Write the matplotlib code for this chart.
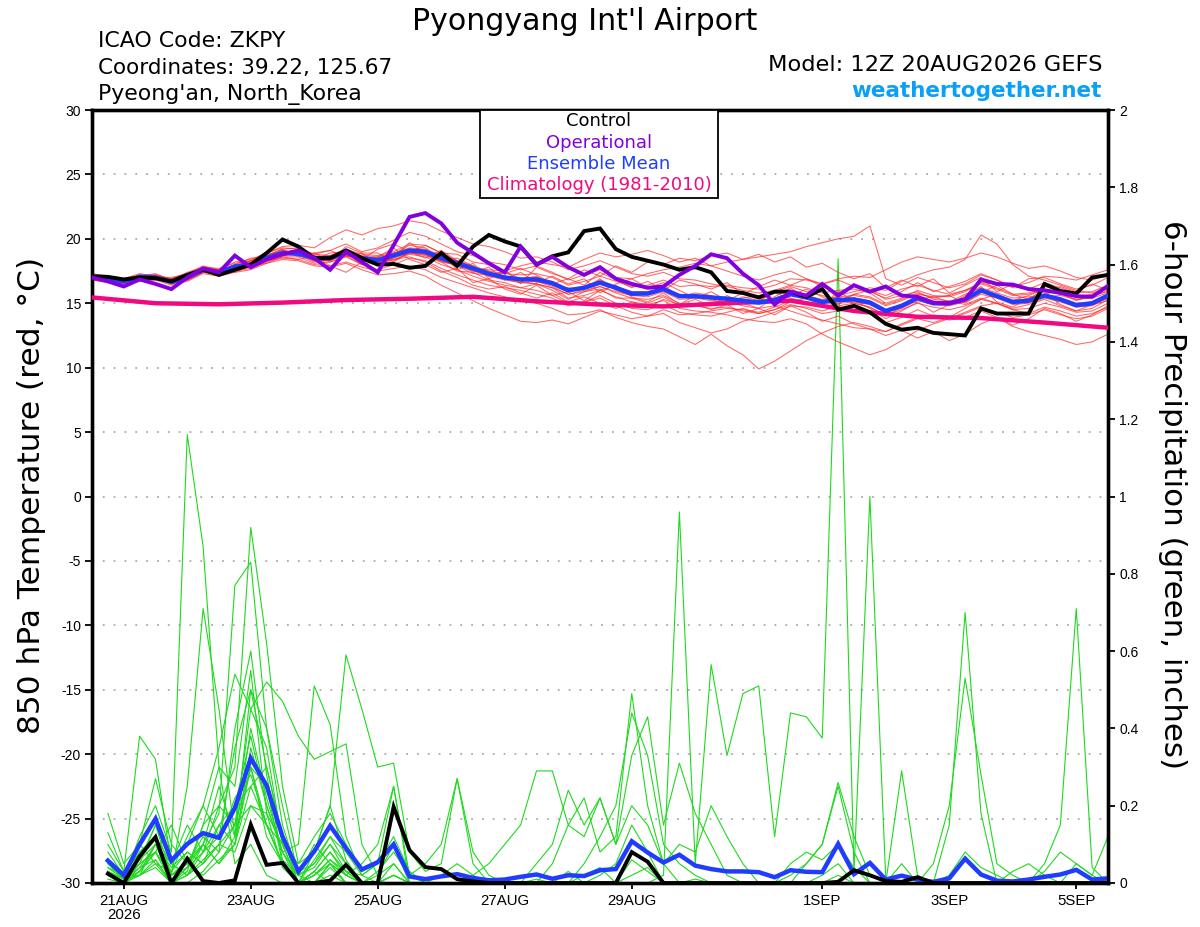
import matplotlib
matplotlib.use('Agg')
import matplotlib.pyplot as plt
from matplotlib.patches import Rectangle

plt.rcParams['font.family'] = ['Liberation Sans', 'DejaVu Sans']
WIDE = ['DejaVu Sans']

# ---------------- time axes (forecast hours from 12Z 20AUG2026) ----------------
hours_t = list(range(0, 385, 6))      # 65 temperature times
hours_p = list(range(6, 385, 6))      # 64 precipitation times
hours_clim = list(range(0, 385, 24))  # 17 climatology times

tick_hours = [12, 60, 108, 156, 204, 276, 324, 372]
tick_labels = ['21AUG\n2026', '23AUG', '25AUG', '27AUG', '29AUG', '1SEP', '3SEP', '5SEP']

# ---------------- 850 hPa temperature ----------------
control_t = [17.1, 17.05, 16.85, 17.0, 16.95, 16.7, 17.2, 17.6, 17.2, 17.6, 18.0, 18.9, 19.95,
             19.4, 18.5, 18.5, 19.1, 18.5, 18.0, 18.05, 17.75, 17.9, 18.9, 17.9, 19.4, 20.3,
             19.8, 19.4, 18.0, 18.65, 18.95, 20.6, 20.8, 19.2, 18.6, 18.3, 18.0, 17.6, 17.8,
             17.4, 15.95, 15.8, 15.45, 15.9, 15.9, 15.5, 16.1, 14.5, 14.8, 14.3, 13.4, 12.95,
             13.1, 12.7, 12.6, 12.5, 14.6, 14.2, 14.2, 14.2, 16.5, 15.95, 15.75, 17.0, 17.2]

operational_t = [17.0, 16.7, 16.3, 16.85, 16.5, 16.1, 17.0, 17.7, 17.4, 18.7, 17.8, 18.4, 18.8,
                 19.1, 18.5, 17.6, 19.0, 18.2, 17.4, 19.5, 21.7, 22.0, 21.2, 19.7, 18.9, 18.1,
                 17.4, 19.4, 18.0, 18.6, 17.8, 17.2, 17.8, 16.9, 16.5, 16.2, 16.3, 17.2, 17.9,
                 18.8, 18.5, 17.3, 16.4, 14.9, 15.9, 15.6, 16.5, 15.6, 16.4, 15.9, 16.3, 15.6,
                 15.5, 15.05, 15.0, 15.3, 16.85, 16.5, 16.45, 16.1, 16.0, 15.8, 15.55, 15.5, 16.35]

mean_t = [17.05, 16.9, 16.7, 17.05, 17.0, 16.65, 17.0, 17.6, 17.4, 17.85, 18.0, 18.5, 18.9,
          18.85, 18.5, 18.5, 18.95, 18.5, 18.35, 18.7, 19.1, 19.0, 18.5, 18.1, 17.7, 17.3,
          17.0, 16.85, 16.85, 16.55, 16.0, 16.2, 16.6, 16.2, 15.75, 15.75, 16.1, 15.55, 15.55,
          15.45, 15.35, 15.2, 15.05, 15.25, 15.7, 15.45, 15.1, 15.25, 15.3, 15.05, 14.4, 14.8,
          15.4, 15.0, 15.0, 15.3, 16.0, 15.55, 15.1, 15.2, 15.6, 15.3, 14.85, 15.0, 15.6]

climatology_t = [15.45, 15.0, 14.92, 15.05, 15.25, 15.35, 15.5, 15.15, 14.9, 14.75, 15.0,
                 15.2, 14.4, 13.95, 13.85, 13.5, 13.1]

member_t01 = [17.2, 17.0, 16.9, 17.3, 17.1, 16.9, 17.3, 17.9, 17.6, 18.2, 18.4, 18.9, 19.3,
              19.2, 18.8, 19.1, 19.6, 19.0, 19.3, 19.9, 20.5, 20.2, 19.6, 19.0, 18.7, 18.2,
              18.0, 17.6, 17.9, 17.4, 16.8, 17.2, 17.6, 17.0, 16.9, 17.3, 17.6, 17.8, 18.1,
              17.9, 18.2, 18.4, 18.6, 18.8, 19.0, 19.4, 19.7, 20.0, 20.2, 21.0, 16.9, 16.4,
              17.0, 16.6, 16.2, 16.5, 17.2, 16.8, 16.3, 16.1, 16.6, 16.2, 15.8, 15.9, 16.4]
member_t02 = [16.8, 16.7, 16.5, 16.8, 16.9, 16.5, 16.8, 17.4, 17.2, 17.5, 17.7, 18.2, 18.6,
              18.6, 18.1, 18.2, 18.6, 18.0, 17.6, 18.0, 18.5, 18.3, 17.7, 17.2, 16.8, 16.4,
              16.2, 16.0, 15.7, 15.4, 14.8, 15.1, 15.6, 15.0, 14.6, 14.5, 14.9, 14.3, 14.1,
              14.0, 14.3, 14.6, 14.2, 14.5, 15.1, 15.4, 15.0, 15.6, 15.9, 16.2, 16.0, 16.7,
              17.2, 17.6, 17.8, 18.4, 20.3, 19.6, 18.0, 17.1, 16.8, 16.4, 16.0, 15.8, 16.2]
member_t03 = [17.0, 16.8, 16.6, 16.9, 16.8, 16.6, 16.9, 17.5, 17.3, 17.6, 17.8, 18.3, 18.5,
              18.4, 18.0, 17.9, 18.2, 17.8, 17.5, 17.7, 17.9, 17.6, 17.0, 16.6, 16.2, 15.8,
              15.5, 15.2, 15.0, 14.6, 14.1, 14.2, 14.5, 13.9, 13.5, 13.2, 13.0, 12.4, 11.8,
              12.6, 11.7, 11.0, 9.9, 10.5, 11.3, 12.1, 12.7, 13.2, 13.5, 13.2, 12.8, 13.4,
              13.9, 14.1, 13.8, 14.3, 14.8, 15.0, 14.5, 14.2, 14.7, 14.4, 14.0, 14.2, 14.7]
member_t04 = [17.3, 17.1, 16.8, 17.1, 17.2, 16.9, 17.1, 17.8, 17.6, 17.9, 18.3, 18.7, 19.2,
              19.3, 18.8, 18.7, 19.2, 18.8, 18.7, 19.0, 19.6, 19.5, 18.9, 18.3, 17.8, 17.4,
              17.1, 16.7, 16.5, 16.2, 15.4, 15.6, 16.0, 15.5, 15.1, 14.9, 15.2, 14.6, 14.4,
              14.3, 14.1, 13.8, 13.6, 13.5, 13.8, 13.4, 12.6, 12.0, 11.5, 11.0, 11.4, 12.1,
              12.9, 13.4, 13.8, 14.2, 14.7, 14.3, 13.9, 14.1, 14.5, 14.1, 13.8, 14.0, 14.6]
member_t05 = [16.9, 16.8, 16.6, 16.8, 16.9, 16.6, 16.9, 17.5, 17.2, 17.7, 17.8, 18.4, 18.8,
              18.8, 18.4, 18.3, 18.8, 18.4, 18.2, 18.5, 18.9, 18.8, 18.3, 17.9, 17.5, 17.1,
              16.8, 16.6, 16.7, 16.3, 15.7, 15.9, 16.3, 15.8, 15.4, 15.3, 15.6, 15.0, 14.8,
              14.6, 14.7, 14.4, 14.2, 14.5, 14.9, 14.6, 14.2, 14.4, 14.5, 14.2, 13.5, 13.9,
              14.5, 14.0, 13.7, 13.9, 14.4, 13.9, 13.2, 12.8, 12.5, 12.2, 11.8, 12.0, 12.6]
member_t06 = [17.1, 17.0, 16.8, 17.2, 17.2, 16.9, 17.2, 17.8, 17.7, 18.1, 18.3, 18.9, 19.4,
              19.5, 19.3, 20.1, 20.7, 20.3, 20.8, 21.0, 21.4, 21.2, 20.6, 20.1, 19.6, 19.4,
              19.0, 18.5, 18.6, 18.2, 17.6, 17.9, 18.3, 17.8, 17.3, 17.1, 17.4, 16.9, 16.8,
              16.5, 16.3, 16.0, 15.8, 16.0, 16.4, 16.2, 15.8, 16.0, 16.1, 15.8, 15.0, 15.4,
              16.0, 15.6, 15.5, 15.9, 16.6, 16.2, 15.7, 15.8, 16.3, 16.0, 15.5, 15.6, 16.3]
member_t07 = [16.8, 16.6, 16.5, 16.7, 16.8, 16.4, 16.7, 17.3, 17.1, 17.4, 17.6, 18.1, 18.4,
              18.3, 17.9, 17.8, 18.1, 17.6, 17.2, 17.3, 17.5, 17.1, 16.4, 15.8, 15.2, 14.6,
              14.1, 13.6, 13.5, 13.7, 13.4, 13.9, 14.4, 14.1, 13.8, 14.0, 14.5, 14.1, 14.2,
              14.4, 14.6, 14.5, 14.3, 14.7, 15.2, 15.0, 14.7, 15.0, 15.1, 14.9, 14.3, 14.6,
              15.2, 14.9, 14.8, 15.1, 15.7, 15.4, 14.9, 15.0, 15.4, 15.1, 14.7, 14.8, 15.4]
member_t08 = [17.0, 16.9, 16.7, 17.0, 17.1, 16.7, 17.0, 17.6, 17.3, 17.7, 18.0, 18.4, 18.8,
              18.7, 18.3, 18.4, 18.8, 18.3, 18.1, 18.4, 18.8, 18.6, 18.0, 17.6, 17.1, 16.7,
              16.4, 16.2, 16.0, 15.6, 15.0, 15.1, 15.4, 14.8, 14.3, 14.0, 14.2, 13.5, 13.1,
              12.7, 13.0, 13.6, 13.9, 14.3, 14.8, 14.7, 14.4, 14.8, 15.0, 14.7, 14.1, 14.5,
              15.0, 14.7, 14.5, 14.8, 15.3, 15.0, 14.5, 14.6, 15.0, 14.7, 14.3, 14.4, 15.0]
member_t09 = [17.1, 17.0, 16.8, 17.1, 17.0, 16.8, 17.1, 17.7, 17.5, 17.9, 18.1, 18.6, 19.0,
              19.0, 18.6, 18.7, 19.1, 18.7, 18.6, 18.9, 19.3, 19.2, 18.7, 18.3, 17.9, 17.5,
              17.3, 17.2, 17.3, 17.0, 16.4, 16.7, 17.1, 16.7, 16.3, 16.4, 16.8, 16.3, 16.4,
              16.3, 16.4, 16.2, 16.1, 16.4, 16.9, 16.8, 16.5, 16.9, 17.1, 17.0, 17.6, 18.2,
              18.6, 18.4, 18.2, 18.5, 18.9, 18.6, 18.1, 17.7, 17.9, 17.5, 17.0, 16.8, 17.2]
member_t10 = [16.9, 16.8, 16.6, 16.9, 16.9, 16.6, 16.9, 17.5, 17.3, 17.8, 18.0, 18.5, 18.9,
              18.9, 18.5, 18.6, 18.9, 18.5, 18.4, 18.8, 19.2, 19.1, 18.6, 18.2, 17.8, 17.4,
              17.1, 16.9, 17.0, 16.7, 16.1, 16.3, 16.8, 16.3, 15.9, 15.9, 16.2, 15.7, 15.6,
              15.5, 15.4, 15.2, 15.0, 15.3, 15.8, 15.5, 15.1, 15.3, 15.4, 15.2, 14.5, 14.9,
              15.5, 15.1, 15.0, 15.3, 16.0, 15.6, 15.1, 15.3, 15.7, 15.4, 15.0, 15.1, 15.7]
member_t11 = [17.2, 16.9, 16.7, 17.2, 17.0, 16.8, 17.4, 17.8, 17.5, 18.0, 18.5, 18.6, 19.1,
              18.7, 18.9, 18.3, 19.4, 18.9, 18.0, 18.6, 19.7, 18.9, 18.9, 17.6, 18.1, 16.9,
              17.6, 16.5, 17.8, 17.3, 16.9, 17.6, 17.1, 17.9, 17.4, 18.2, 18.0, 18.5, 18.3,
              18.7, 18.9, 18.4, 18.8, 18.2, 18.6, 17.8, 18.1, 17.4, 16.9, 17.3, 16.2, 16.8,
              16.3, 16.9, 15.8, 16.4, 17.0, 15.9, 16.5, 16.1, 15.6, 16.3, 15.9, 16.5, 16.0]
member_t12 = [16.9, 16.7, 16.6, 16.9, 17.1, 16.5, 16.8, 17.4, 17.6, 17.4, 17.9, 18.1, 18.6,
              18.4, 18.7, 17.9, 17.4, 18.2, 18.6, 19.3, 18.4, 18.0, 17.4, 17.7, 16.6, 16.9,
              16.1, 15.7, 16.4, 15.6, 15.9, 15.2, 16.0, 16.4, 15.5, 15.1, 15.8, 14.9, 15.3,
              14.8, 15.6, 15.0, 14.6, 15.5, 16.2, 15.4, 14.8, 15.9, 15.2, 14.6, 13.8, 14.4,
              15.1, 14.3, 14.9, 15.6, 16.3, 15.1, 14.7, 15.4, 15.9, 14.9, 14.4, 14.9, 15.2]
member_t13 = [17.1, 17.1, 16.9, 17.1, 16.8, 17.0, 17.3, 17.6, 17.2, 17.9, 18.3, 18.8, 19.0,
              19.1, 18.4, 18.9, 19.0, 18.4, 19.2, 19.6, 19.0, 19.5, 18.9, 18.8, 18.2, 18.0,
              17.3, 17.7, 17.2, 16.5, 16.9, 16.4, 17.4, 16.8, 16.2, 16.7, 16.0, 16.8, 16.5,
              16.1, 16.6, 15.7, 16.3, 16.8, 16.4, 16.9, 16.3, 15.8, 16.4, 15.9, 15.4, 15.9,
              16.6, 15.9, 16.3, 16.7, 17.3, 16.8, 16.2, 16.9, 17.0, 16.5, 16.1, 16.4, 17.0]
member_t14 = [17.0, 16.9, 16.8, 17.0, 16.9, 16.7, 16.9, 17.5, 17.4, 17.7, 17.8, 18.4, 18.7,
              18.9, 18.6, 18.2, 18.7, 18.6, 18.2, 18.3, 18.9, 18.7, 18.2, 17.5, 17.4, 16.8,
              16.6, 16.2, 16.5, 16.0, 15.3, 15.9, 16.1, 15.4, 15.4, 15.0, 15.5, 14.8, 14.9,
              14.5, 14.9, 14.2, 14.6, 14.1, 14.8, 14.3, 13.6, 14.0, 13.4, 13.0, 12.5, 12.9,
              12.3, 12.8, 12.1, 12.6, 13.4, 13.9, 13.3, 13.8, 14.6, 14.2, 13.6, 14.1, 14.8]
member_t15 = [17.2, 17.0, 16.7, 17.1, 17.3, 16.8, 17.1, 17.7, 17.5, 18.0, 18.1, 18.7, 19.2,
              18.6, 18.9, 19.1, 18.6, 18.9, 18.9, 18.2, 19.0, 18.5, 19.1, 18.3, 17.4, 17.8,
              16.8, 17.4, 16.6, 17.1, 16.5, 16.9, 15.8, 16.5, 16.9, 16.2, 16.6, 16.0, 15.4,
              15.9, 15.2, 15.8, 15.4, 14.9, 15.6, 16.1, 15.5, 14.9, 15.7, 15.5, 14.9, 15.3,
              15.8, 15.4, 15.6, 15.0, 15.8, 16.4, 15.7, 15.3, 16.1, 15.8, 15.2, 15.6, 15.9]
member_t16 = [16.8, 16.8, 16.6, 16.8, 17.0, 16.6, 16.8, 17.4, 17.3, 17.8, 17.9, 18.3, 18.8,
              18.8, 18.2, 18.6, 18.8, 18.3, 18.5, 18.9, 19.2, 18.8, 18.2, 18.0, 17.7, 17.6,
              17.5, 17.9, 18.2, 18.0, 17.8, 18.4, 18.9, 18.6, 18.8, 19.1, 18.7, 18.2, 18.5,
              17.9, 17.5, 17.1, 16.8, 17.2, 17.5, 16.9, 16.5, 16.8, 16.3, 16.0, 15.6, 16.1,
              16.4, 16.0, 15.7, 16.0, 16.5, 16.1, 15.6, 15.7, 16.1, 15.7, 15.3, 15.5, 16.0]
member_t17 = [17.0, 17.1, 16.8, 16.9, 17.0, 16.8, 17.2, 17.6, 17.4, 17.8, 18.2, 18.6, 18.7,
              19.0, 18.3, 18.4, 18.7, 18.0, 18.3, 18.4, 18.6, 18.2, 17.5, 17.0, 16.4, 16.1,
              16.3, 15.8, 15.4, 15.8, 15.1, 15.5, 15.0, 14.6, 15.1, 14.7, 15.3, 14.9, 15.6,
              15.3, 14.9, 15.4, 15.6, 15.9, 16.3, 15.9, 15.6, 15.2, 15.7, 16.0, 15.3, 15.6,
              15.9, 15.3, 15.2, 14.9, 15.4, 15.0, 14.6, 14.9, 15.3, 14.8, 14.4, 14.6, 15.3]
member_t18 = [17.1, 16.8, 16.7, 17.0, 17.1, 16.7, 16.9, 17.6, 17.5, 17.6, 18.0, 18.4, 19.0,
              18.8, 18.7, 18.5, 19.2, 18.6, 18.4, 18.8, 19.5, 19.3, 18.4, 18.5, 17.9, 17.1,
              17.4, 16.9, 17.1, 16.4, 16.2, 16.1, 16.9, 16.0, 15.6, 15.7, 16.4, 15.5, 15.8,
              15.6, 15.0, 15.5, 15.2, 15.8, 15.4, 15.1, 14.9, 15.5, 15.0, 14.7, 14.0, 14.7,
              15.3, 15.5, 15.1, 15.7, 16.2, 15.8, 15.4, 15.5, 15.5, 15.6, 15.3, 15.4, 15.8]
member_t19 = [16.9, 16.9, 16.7, 17.0, 16.9, 16.6, 17.0, 17.5, 17.3, 17.7, 18.0, 18.5, 18.7,
              18.9, 18.4, 18.6, 18.7, 18.4, 18.3, 18.6, 18.9, 18.8, 18.3, 17.9, 17.3, 17.2,
              16.9, 16.6, 16.5, 16.2, 15.7, 16.0, 16.3, 15.9, 15.6, 15.5, 15.9, 15.3, 15.4,
              15.2, 15.1, 14.8, 14.6, 14.8, 14.4, 14.0, 13.7, 13.4, 13.1, 13.0, 12.8, 13.3,
              13.8, 13.5, 13.9, 14.6, 15.3, 15.7, 15.2, 15.6, 16.1, 15.9, 15.5, 15.7, 16.1]
member_t20 = [17.0, 16.9, 16.6, 17.0, 17.0, 16.7, 17.0, 17.7, 17.4, 17.9, 18.0, 18.6, 19.1,
              18.9, 18.5, 18.5, 19.0, 18.6, 18.5, 18.7, 19.0, 18.9, 18.4, 18.0, 17.6, 17.2,
              16.9, 16.8, 16.9, 16.5, 15.9, 16.2, 16.5, 16.2, 15.7, 15.7, 16.0, 15.6, 15.5,
              15.4, 15.3, 15.2, 15.1, 15.4, 15.7, 15.6, 15.3, 15.5, 15.6, 15.4, 14.8, 15.2,
              15.7, 15.5, 15.6, 16.0, 16.6, 16.5, 16.3, 16.6, 17.1, 17.0, 16.8, 17.2, 17.6]

members_t = [member_t01, member_t02, member_t03, member_t04, member_t05, member_t06, member_t07,
             member_t08, member_t09, member_t10, member_t11, member_t12, member_t13, member_t14,
             member_t15, member_t16, member_t17, member_t18, member_t19, member_t20]

# ---------------- 6-hour precipitation (inches) ----------------
control_p = [0.024, 0.0, 0.069, 0.119, 0.0, 0.063, 0.005, 0.0, 0.007, 0.151, 0.047, 0.052, 0.0, 0.0, 0.006, 0.047,
             0.0, 0.0, 0.197, 0.085, 0.041, 0.036, 0.010, 0.004, 0.0, 0.0, 0.0, 0.0, 0.0, 0.0, 0.0, 0.0,
             0.0, 0.080, 0.055, 0.0, 0.0, 0.0, 0.0, 0.0, 0.0, 0.0, 0.0, 0.0, 0.0, 0.0, 0.003, 0.033,
             0.020, 0.005, 0.003, 0.015, 0.0, 0.0, 0.0, 0.0, 0.0, 0.0, 0.0, 0.0, 0.0, 0.0, 0.0, 0.0]

mean_p = [0.058, 0.020, 0.100, 0.166, 0.058, 0.101, 0.129, 0.117, 0.194, 0.323, 0.252, 0.120, 0.030, 0.082, 0.148, 0.090,
          0.035, 0.054, 0.100, 0.017, 0.010, 0.017, 0.023, 0.013, 0.007, 0.009, 0.016, 0.022, 0.011, 0.020, 0.018, 0.033,
          0.036, 0.108, 0.079, 0.053, 0.073, 0.045, 0.036, 0.030, 0.030, 0.028, 0.015, 0.033, 0.029, 0.028, 0.101, 0.023,
          0.052, 0.009, 0.019, 0.009, 0.003, 0.012, 0.063, 0.022, 0.006, 0.004, 0.009, 0.016, 0.022, 0.034, 0.009, 0.012]

member_p01 = [0.05, 0.01, 0.12, 0.20, 0.08, 1.16, 0.87, 0.30, 0.05, 0.10, 0.02, 0.0, 0.0, 0.03, 0.0, 0.0,
              0.0, 0.0, 0.02, 0.0, 0.0, 0.0, 0.0, 0.0, 0.0, 0.0, 0.0, 0.01, 0.0, 0.0, 0.0, 0.0,
              0.0, 0.02, 0.04, 0.0, 0.0, 0.01, 0.0, 0.0, 0.0, 0.0, 0.0, 0.0, 0.0, 0.0, 0.02, 0.0,
              0.0, 0.0, 0.0, 0.0, 0.0, 0.0, 0.0, 0.0, 0.0, 0.0, 0.0, 0.0, 0.0, 0.0, 0.0, 0.0]
member_p02 = [0.13, 0.03, 0.06, 0.15, 0.02, 0.25, 0.71, 0.45, 0.12, 0.30, 0.15, 0.05, 0.0, 0.08, 0.20, 0.06,
              0.0, 0.02, 0.10, 0.0, 0.0, 0.0, 0.0, 0.0, 0.0, 0.0, 0.0, 0.0, 0.0, 0.03, 0.0, 0.02,
              0.05, 0.15, 0.08, 0.0, 0.0, 0.0, 0.0, 0.0, 0.0, 0.0, 0.0, 0.0, 0.0, 0.0, 0.0, 0.0,
              0.0, 0.0, 0.0, 0.0, 0.0, 0.0, 0.0, 0.0, 0.0, 0.0, 0.0, 0.0, 0.0, 0.0, 0.0, 0.0]
member_p03 = [0.03, 0.0, 0.08, 0.12, 0.05, 0.02, 0.10, 0.18, 0.77, 0.83, 0.40, 0.15, 0.02, 0.0, 0.05, 0.0,
              0.0, 0.0, 0.0, 0.0, 0.0, 0.0, 0.0, 0.0, 0.0, 0.0, 0.0, 0.0, 0.0, 0.0, 0.0, 0.0,
              0.0, 0.0, 0.0, 0.0, 0.0, 0.0, 0.0, 0.0, 0.0, 0.0, 0.0, 0.0, 0.0, 0.02, 0.05, 0.0,
              0.0, 0.0, 0.0, 0.0, 0.0, 0.0, 0.0, 0.0, 0.0, 0.0, 0.0, 0.0, 0.0, 0.0, 0.0, 0.0]
member_p04 = [0.02, 0.0, 0.03, 0.10, 0.0, 0.04, 0.15, 0.20, 0.30, 0.92, 0.62, 0.25, 0.05, 0.12, 0.18, 0.10,
              0.03, 0.05, 0.25, 0.0, 0.0, 0.0, 0.0, 0.0, 0.0, 0.0, 0.0, 0.0, 0.0, 0.0, 0.02, 0.04,
              0.0, 0.06, 0.03, 0.0, 0.0, 0.0, 0.0, 0.0, 0.0, 0.0, 0.0, 0.0, 0.0, 0.0, 0.0, 0.0,
              0.0, 0.0, 0.0, 0.0, 0.0, 0.0, 0.0, 0.0, 0.0, 0.03, 0.05, 0.02, 0.0, 0.0, 0.0, 0.0]
member_p05 = [0.08, 0.02, 0.10, 0.05, 0.03, 0.12, 0.20, 0.35, 0.54, 0.45, 0.52, 0.47, 0.38, 0.32, 0.34, 0.36,
              0.10, 0.02, 0.05, 0.0, 0.0, 0.0, 0.0, 0.0, 0.0, 0.0, 0.0, 0.0, 0.0, 0.0, 0.0, 0.0,
              0.0, 0.0, 0.0, 0.0, 0.0, 0.0, 0.0, 0.0, 0.0, 0.0, 0.0, 0.0, 0.0, 0.0, 0.0, 0.0,
              0.0, 0.0, 0.0, 0.0, 0.0, 0.0, 0.0, 0.0, 0.0, 0.0, 0.0, 0.0, 0.0, 0.0, 0.0, 0.0]
member_p06 = [0.04, 0.01, 0.05, 0.08, 0.15, 0.05, 0.02, 0.06, 0.10, 0.35, 0.20, 0.08, 0.10, 0.51, 0.41, 0.12,
              0.02, 0.0, 0.0, 0.0, 0.0, 0.0, 0.0, 0.0, 0.0, 0.0, 0.0, 0.0, 0.0, 0.0, 0.0, 0.0,
              0.0, 0.0, 0.0, 0.0, 0.0, 0.0, 0.0, 0.0, 0.0, 0.0, 0.0, 0.0, 0.0, 0.0, 0.0, 0.0,
              0.0, 0.0, 0.0, 0.0, 0.0, 0.0, 0.0, 0.0, 0.0, 0.0, 0.0, 0.0, 0.0, 0.0, 0.0, 0.0]
member_p07 = [0.06, 0.02, 0.02, 0.10, 0.04, 0.08, 0.05, 0.10, 0.22, 0.28, 0.15, 0.10, 0.05, 0.08, 0.20, 0.59,
              0.45, 0.30, 0.31, 0.08, 0.03, 0.05, 0.27, 0.05, 0.0, 0.0, 0.0, 0.0, 0.0, 0.0, 0.0, 0.0,
              0.0, 0.0, 0.0, 0.0, 0.0, 0.0, 0.0, 0.0, 0.0, 0.0, 0.0, 0.0, 0.0, 0.0, 0.0, 0.0,
              0.0, 0.0, 0.0, 0.0, 0.0, 0.0, 0.0, 0.0, 0.0, 0.0, 0.0, 0.0, 0.0, 0.0, 0.0, 0.0]
member_p08 = [0.10, 0.03, 0.38, 0.32, 0.05, 0.15, 0.08, 0.12, 0.20, 0.25, 0.30, 0.12, 0.0, 0.02, 0.06, 0.03,
              0.0, 0.0, 0.05, 0.0, 0.0, 0.0, 0.0, 0.0, 0.0, 0.0, 0.0, 0.0, 0.0, 0.0, 0.0, 0.0,
              0.0, 0.0, 0.0, 0.0, 0.0, 0.0, 0.0, 0.0, 0.0, 0.0, 0.0, 0.0, 0.0, 0.0, 0.0, 0.0,
              0.0, 0.0, 0.0, 0.0, 0.0, 0.0, 0.0, 0.0, 0.0, 0.0, 0.0, 0.0, 0.0, 0.0, 0.0, 0.0]
member_p09 = [0.18, 0.05, 0.10, 0.27, 0.10, 0.05, 0.12, 0.08, 0.40, 0.60, 0.28, 0.06, 0.02, 0.10, 0.05, 0.02,
              0.05, 0.10, 0.25, 0.02, 0.0, 0.0, 0.0, 0.0, 0.0, 0.0, 0.0, 0.0, 0.0, 0.0, 0.0, 0.0,
              0.0, 0.0, 0.0, 0.0, 0.0, 0.0, 0.0, 0.0, 0.0, 0.0, 0.0, 0.0, 0.0, 0.0, 0.0, 0.0,
              0.0, 0.0, 0.0, 0.0, 0.0, 0.0, 0.0, 0.0, 0.0, 0.0, 0.0, 0.0, 0.0, 0.0, 0.0, 0.0]
member_p10 = [0.02, 0.0, 0.05, 0.08, 0.0, 0.02, 0.06, 0.10, 0.15, 0.45, 0.35, 0.10, 0.0, 0.0, 0.05, 0.02,
              0.0, 0.0, 0.0, 0.0, 0.0, 0.0, 0.0, 0.02, 0.05, 0.10, 0.15, 0.29, 0.29, 0.15, 0.22, 0.08,
              0.12, 0.49, 0.20, 0.05, 0.0, 0.0, 0.0, 0.0, 0.0, 0.0, 0.0, 0.0, 0.0, 0.0, 0.0, 0.0,
              0.0, 0.0, 0.0, 0.0, 0.0, 0.0, 0.0, 0.0, 0.0, 0.0, 0.0, 0.0, 0.0, 0.0, 0.0, 0.0]
member_p11 = [0.03, 0.01, 0.02, 0.06, 0.0, 0.04, 0.10, 0.25, 0.12, 0.50, 0.40, 0.20, 0.02, 0.05, 0.10, 0.03,
              0.0, 0.0, 0.0, 0.0, 0.0, 0.0, 0.0, 0.0, 0.0, 0.0, 0.0, 0.05, 0.10, 0.24, 0.15, 0.22,
              0.10, 0.33, 0.43, 0.15, 0.31, 0.18, 0.10, 0.02, 0.0, 0.0, 0.0, 0.0, 0.0, 0.0, 0.0, 0.0,
              0.0, 0.0, 0.0, 0.0, 0.0, 0.0, 0.0, 0.0, 0.0, 0.0, 0.0, 0.0, 0.0, 0.0, 0.0, 0.0]
member_p12 = [0.05, 0.01, 0.04, 0.10, 0.03, 0.08, 0.05, 0.15, 0.10, 0.30, 0.25, 0.05, 0.0, 0.03, 0.08, 0.02,
              0.0, 0.0, 0.02, 0.0, 0.0, 0.0, 0.0, 0.0, 0.0, 0.0, 0.0, 0.0, 0.0, 0.0, 0.0, 0.0,
              0.0, 0.0, 0.0, 0.02, 0.96, 0.05, 0.565, 0.33, 0.49, 0.51, 0.12, 0.44, 0.43, 0.375, 1.615, 0.03,
              1.0, 0.01, 0.0, 0.0, 0.0, 0.0, 0.0, 0.0, 0.0, 0.0, 0.0, 0.0, 0.0, 0.0, 0.0, 0.0]
member_p13 = [0.0, 0.0, 0.02, 0.05, 0.0, 0.0, 0.03, 0.08, 0.15, 0.20, 0.18, 0.04, 0.0, 0.0, 0.02, 0.0,
              0.0, 0.0, 0.0, 0.0, 0.0, 0.0, 0.0, 0.0, 0.0, 0.0, 0.0, 0.0, 0.0, 0.0, 0.0, 0.0,
              0.0, 0.0, 0.0, 0.0, 0.0, 0.0, 0.0, 0.0, 0.0, 0.0, 0.0, 0.02, 0.05, 0.10, 0.25, 0.08,
              0.0, 0.0, 0.29, 0.02, 0.0, 0.15, 0.70, 0.18, 0.0, 0.0, 0.0, 0.0, 0.0, 0.0, 0.0, 0.0]
member_p14 = [0.06, 0.02, 0.08, 0.12, 0.02, 0.05, 0.10, 0.05, 0.12, 0.40, 0.22, 0.08, 0.0, 0.06, 0.12, 0.05,
              0.0, 0.03, 0.08, 0.02, 0.0, 0.0, 0.0, 0.0, 0.0, 0.0, 0.0, 0.0, 0.0, 0.0, 0.0, 0.0,
              0.0, 0.0, 0.0, 0.0, 0.0, 0.0, 0.0, 0.0, 0.0, 0.0, 0.0, 0.0, 0.0, 0.0, 0.0, 0.0,
              0.0, 0.0, 0.05, 0.0, 0.05, 0.20, 0.53, 0.28, 0.05, 0.02, 0.0, 0.0, 0.0, 0.0, 0.0, 0.0]
member_p15 = [0.03, 0.0, 0.04, 0.06, 0.0, 0.03, 0.15, 0.30, 0.25, 0.55, 0.18, 0.10, 0.0, 0.0, 0.04, 0.0,
              0.0, 0.0, 0.0, 0.0, 0.0, 0.0, 0.0, 0.0, 0.0, 0.0, 0.0, 0.0, 0.0, 0.0, 0.0, 0.0,
              0.0, 0.0, 0.0, 0.0, 0.0, 0.0, 0.0, 0.0, 0.0, 0.0, 0.0, 0.0, 0.0, 0.0, 0.0, 0.0,
              0.0, 0.0, 0.0, 0.0, 0.0, 0.0, 0.0, 0.0, 0.0, 0.0, 0.0, 0.05, 0.15, 0.71, 0.04, 0.0]
member_p16 = [0.01, 0.0, 0.02, 0.04, 0.0, 0.02, 0.05, 0.10, 0.08, 0.20, 0.15, 0.05, 0.0, 0.02, 0.05, 0.0,
              0.0, 0.0, 0.0, 0.0, 0.0, 0.0, 0.0, 0.0, 0.0, 0.0, 0.0, 0.0, 0.0, 0.0, 0.0, 0.0,
              0.0, 0.0, 0.0, 0.0, 0.0, 0.0, 0.0, 0.0, 0.0, 0.0, 0.0, 0.0, 0.05, 0.10, 0.26, 0.12,
              0.02, 0.0, 0.0, 0.0, 0.0, 0.0, 0.0, 0.0, 0.0, 0.0, 0.0, 0.0, 0.0, 0.05, 0.02, 0.12]
member_p17 = [0.04, 0.02, 0.06, 0.10, 0.05, 0.10, 0.20, 0.12, 0.35, 0.50, 0.30, 0.12, 0.03, 0.05, 0.12, 0.08,
              0.02, 0.05, 0.12, 0.03, 0.0, 0.02, 0.05, 0.02, 0.0, 0.0, 0.0, 0.0, 0.05, 0.15, 0.12, 0.22,
              0.10, 0.20, 0.15, 0.05, 0.10, 0.08, 0.20, 0.12, 0.05, 0.0, 0.0, 0.0, 0.0, 0.0, 0.0, 0.0,
              0.0, 0.0, 0.0, 0.0, 0.0, 0.0, 0.0, 0.0, 0.0, 0.0, 0.0, 0.0, 0.0, 0.0, 0.0, 0.0]
member_p18 = [0.02, 0.0, 0.03, 0.08, 0.02, 0.04, 0.08, 0.20, 0.15, 0.30, 0.12, 0.05, 0.0, 0.02, 0.06, 0.02,
              0.0, 0.0, 0.0, 0.0, 0.0, 0.0, 0.0, 0.0, 0.0, 0.0, 0.0, 0.0, 0.0, 0.0, 0.0, 0.0,
              0.0, 0.0, 0.0, 0.0, 0.0, 0.0, 0.0, 0.0, 0.0, 0.0, 0.0, 0.0, 0.0, 0.0, 0.0, 0.0,
              0.0, 0.0, 0.0, 0.0, 0.0, 0.02, 0.08, 0.04, 0.02, 0.0, 0.0, 0.03, 0.08, 0.05, 0.02, 0.0]
member_p19 = [0.05, 0.02, 0.05, 0.15, 0.05, 0.02, 0.08, 0.15, 0.20, 0.38, 0.20, 0.08, 0.02, 0.04, 0.10, 0.05,
              0.0, 0.0, 0.02, 0.0, 0.0, 0.0, 0.0, 0.0, 0.0, 0.0, 0.0, 0.0, 0.0, 0.0, 0.05, 0.12,
              0.20, 0.44, 0.33, 0.10, 0.05, 0.02, 0.0, 0.0, 0.0, 0.0, 0.0, 0.05, 0.08, 0.06, 0.10, 0.04,
              0.0, 0.0, 0.0, 0.0, 0.0, 0.0, 0.0, 0.0, 0.0, 0.0, 0.0, 0.0, 0.0, 0.0, 0.0, 0.0]
member_p20 = [0.03, 0.01, 0.03, 0.08, 0.02, 0.06, 0.10, 0.05, 0.10, 0.25, 0.15, 0.05, 0.0, 0.03, 0.08, 0.03,
              0.02, 0.05, 0.10, 0.02, 0.05, 0.10, 0.27, 0.08, 0.02, 0.0, 0.0, 0.0, 0.0, 0.0, 0.0, 0.0,
              0.0, 0.0, 0.0, 0.0, 0.0, 0.0, 0.0, 0.0, 0.0, 0.0, 0.0, 0.0, 0.0, 0.0, 0.0, 0.0,
              0.0, 0.0, 0.0, 0.0, 0.0, 0.0, 0.0, 0.0, 0.0, 0.0, 0.0, 0.0, 0.0, 0.0, 0.0, 0.0]

members_p = [member_p01, member_p02, member_p03, member_p04, member_p05, member_p06, member_p07,
             member_p08, member_p09, member_p10, member_p11, member_p12, member_p13, member_p14,
             member_p15, member_p16, member_p17, member_p18, member_p19, member_p20]

temp_ticks = list(range(-30, 31, 5))
precip_ticks = [0, 0.2, 0.4, 0.6, 0.8, 1.0, 1.2, 1.4, 1.6, 1.8, 2.0]
precip_tick_labels = ['0', '0.2', '0.4', '0.6', '0.8', '1', '1.2', '1.4', '1.6', '1.8', '2']

# ---------------- figure ----------------
W, H = 1200, 927
fig = plt.figure(figsize=(W / 100, H / 100), dpi=100)
ax = fig.add_axes([92 / W, 1 - 883 / H, 1016 / W, 773 / H])   # precipitation axis (drawn below)
axT = ax.twinx()                                              # temperature axis (drawn above)

RED = (1.0, 0.15, 0.15)
GREEN = (0.12, 0.85, 0.12)
BLACK = '#000000'
PURPLE = '#8200e0'
BLUE = '#1f3cff'
PINK = '#f00a82'

# dotted grid at every 5 deg C (drawn on lower axis, in temperature units)
for tv in temp_ticks[1:-1]:
    ax.plot([0, 384], [tv, tv], transform=axT.transData, color='#aaaaaa',
            lw=1.3, ls=(0, (1, 5)), zorder=0.5)

for m in members_p:
    ax.plot(hours_p, m, color=GREEN, lw=0.8, zorder=2)
ax.plot(hours_p, mean_p, color=BLUE, lw=3.2, zorder=4, solid_joinstyle='miter')
ax.plot(hours_p, control_p, color=BLACK, lw=2.8, zorder=5, solid_joinstyle='miter')

for m in members_t:
    axT.plot(hours_t, m, color=RED, lw=0.75, alpha=0.7, zorder=2)
axT.plot(hours_clim, climatology_t, color=PINK, lw=3.2, zorder=3)
axT.plot(hours_t, mean_t, color=BLUE, lw=3.2, zorder=4, solid_joinstyle='miter')
axT.plot(hours_t, control_t, color=BLACK, lw=2.8, zorder=5, solid_joinstyle='miter')
axT.plot(hours_t, operational_t, color=PURPLE, lw=2.8, zorder=6, solid_joinstyle='miter')

ax.set_xlim(0, 384)
ax.set_ylim(0, 2)
axT.set_ylim(-30, 30)

# axis sides: temperature on left, precipitation on right
axT.yaxis.tick_left()
ax.yaxis.tick_right()

axT.set_yticks(temp_ticks)
axT.set_yticklabels([str(t) for t in temp_ticks])
ax.set_yticks(precip_ticks)
ax.set_yticklabels(precip_tick_labels)
ax.set_xticks(tick_hours)
ax.set_xticklabels(tick_labels, fontsize=10.8, linespacing=0.95)

for a in (ax, axT):
    for s in a.spines.values():
        s.set_linewidth(2.4)
ax.tick_params(axis='y', labelsize=10, length=5, width=1.3, pad=3, direction='out')
axT.tick_params(axis='y', labelsize=10, length=5, width=1.3, pad=3, direction='out')
ax.tick_params(axis='x', length=4, width=1.3, pad=4, direction='out')

# axis titles
fig.text(32 / W, 1 - 495 / H, '850 hPa Temperature (red, °C)', family=WIDE, fontsize=22.5,
         rotation=90, ha='center', va='center')
fig.text(1172 / W, 1 - 495 / H, '6-hour Precipitation (green, inches)', family=WIDE,
         fontsize=22.3, rotation=270, ha='center', va='center')

# ---------------- header texts ----------------
fig.text(585 / W, 1 - 30 / H, "Pyongyang Int'l Airport", family=WIDE, fontsize=21.6,
         ha='center', va='baseline')
fig.text(98 / W, 1 - 47 / H, 'ICAO Code: ZKPY', family=WIDE, fontsize=15.8, ha='left', va='baseline')
fig.text(98 / W, 1 - 74 / H, 'Coordinates: 39.22, 125.67', family=WIDE, fontsize=15.5,
         ha='left', va='baseline')
fig.text(98 / W, 1 - 100 / H, "Pyeong'an, North_Korea", family=WIDE, fontsize=15.8,
         ha='left', va='baseline')
fig.text(1102 / W, 1 - 71 / H, 'Model: 12Z 20AUG2026 GEFS', family=WIDE, fontsize=16.2,
         ha='right', va='baseline')
fig.text(1102 / W, 1 - 97 / H, 'weathertogether.net', family=WIDE, fontsize=15.5,
         fontweight='bold', color='#0aa0f8', ha='right', va='baseline')

# ---------------- legend box ----------------
fig.add_artist(Rectangle((480 / W, 1 - 198 / H), 238 / W, 88 / H, transform=fig.transFigure,
                         facecolor='white', edgecolor='black', lw=1.3, zorder=5))
legend_items = [('Control', BLACK), ('Operational', PURPLE), ('Ensemble Mean', BLUE),
                ('Climatology (1981-2010)', PINK)]
for k, (txt, col) in enumerate(legend_items):
    fig.text(599 / W, 1 - (121 + 21.5 * k) / H, txt, family=WIDE, fontsize=13, color=col,
             ha='center', va='center', zorder=6)

fig.savefig('out.png', dpi=100)
